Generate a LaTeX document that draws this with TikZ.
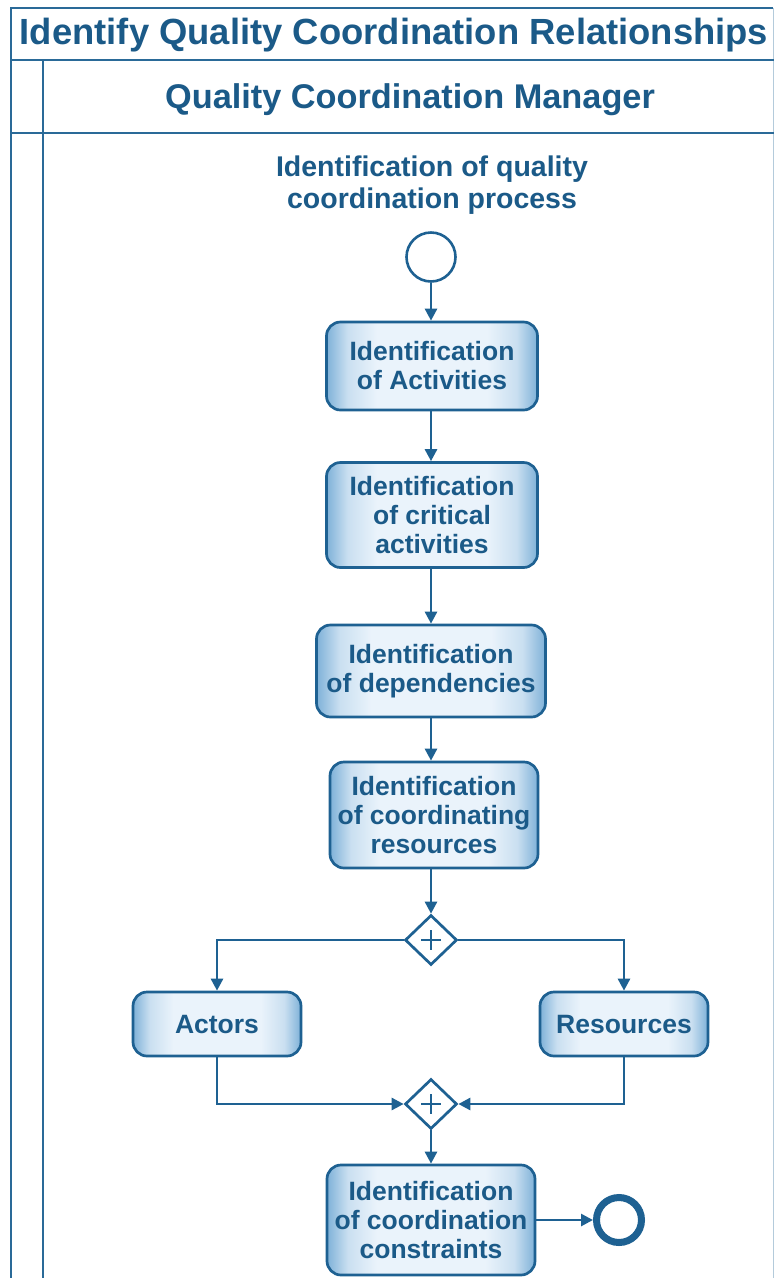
\documentclass[tikz,border=0pt]{standalone}
\usepackage{fontspec}
\setmainfont{Liberation Sans}
\usetikzlibrary{arrows.meta,shapes.geometric,calc}

\definecolor{ink}{HTML}{1B5A88}
\definecolor{edge}{HTML}{1E6192}
\definecolor{frameline}{HTML}{2A6A98}
\definecolor{shadeedge}{HTML}{7EB1D8}
\definecolor{shademid}{HTML}{EAF3FB}

% light body, darker bands along the left and right sides of each task
\pgfdeclarehorizontalshading{taskshade}{100bp}{%
  color(0bp)=(shadeedge); color(25bp)=(shadeedge);
  color(30bp)=(shademid!70!shadeedge); color(37bp)=(shademid);
  color(63bp)=(shademid); color(70bp)=(shademid!70!shadeedge);
  color(75bp)=(shadeedge); color(100bp)=(shadeedge)}

\newcommand{\titlefont}{\fontsize{36.4}{40}\selectfont\bfseries}
\newcommand{\headfont}{\fontsize{34.3}{38}\selectfont\bfseries}
\newcommand{\labelfont}{\fontsize{28.5}{32}\selectfont\bfseries}
\newcommand{\taskfont}{\fontsize{26.5}{29}\selectfont\bfseries}

\tikzset{
  frame/.style={draw=frameline, line width=2.6pt},
  task/.style={draw=edge, line width=2.7pt, rounded corners=14pt,
    shading=taskshade, text=ink, font=\taskfont, align=center, inner sep=0pt},
  gate/.style={diamond, draw=edge, line width=2.7pt, fill=white,
    minimum width=52pt, minimum height=50pt, inner sep=0pt},
  plus/.style={draw=edge, line width=2.6pt},
  flow/.style={draw=edge, line width=2.7pt, -{Triangle[length=12pt,width=12pt]}},
  startev/.style={circle, draw=edge, line width=2.6pt, fill=white,
    minimum size=49pt, inner sep=0pt},
  endev/.style={circle, draw=edge, line width=7pt, fill=white,
    minimum size=45pt, inner sep=0pt},
}

\begin{document}
\begin{tikzpicture}[x=1pt,y=-1pt]
\useasboundingbox[fill=white] (0,0) rectangle (774,1278);

% pool and lane frame
\draw[frame] (11,1290) -- (11,8) -- (773,8);
\draw[draw=frameline!35, line width=1pt] (773.5,8) -- (773.5,1290);
\draw[frame] (11,60) -- (774,60);
\draw[frame] (11,133) -- (774,133);
\draw[frame] (43,60) -- (43,1290);

\node[text=ink, font=\titlefont] (pool) at (394,35) {Identify Quality Coordination Relationships};
\node[text=ink, font=\headfont] (lane) at (410,100) {Quality Coordination Manager};

% process
\node[text=ink, font=\labelfont, align=center] (proc) at (432,185)
  {Identification of quality\\coordination process};
\node[startev] (start) at (431,257) {};

\node[task, minimum width=211pt, minimum height=88pt] (act) at (432,366)
  {Identification\\of Activities};
\node[task, minimum width=211pt, minimum height=105pt] (crit) at (432,515)
  {Identification\\of critical\\activities};
\node[task, minimum width=229pt, minimum height=92pt] (dep) at (431,671)
  {Identification\\of dependencies};
\node[task, minimum width=208pt, minimum height=106pt] (res) at (434,815)
  {Identification\\of coordinating\\resources};

\node[gate] (split) at (431,940) {};
\draw[plus] ($(split.center)+(-10,0)$) -- ($(split.center)+(10,0)$);
\draw[plus] ($(split.center)+(0,-10)$) -- ($(split.center)+(0,10)$);

\node[task, minimum width=168pt, minimum height=64pt] (actors) at (217,1024) {Actors};
\node[task, minimum width=168pt, minimum height=64pt] (resources) at (624,1024) {Resources};

\node[gate] (join) at (431,1104) {};
\draw[plus] ($(join.center)+(-10,0)$) -- ($(join.center)+(10,0)$);
\draw[plus] ($(join.center)+(0,-10)$) -- ($(join.center)+(0,10)$);

\node[task, minimum width=208pt, minimum height=110pt] (cons) at (431,1220)
  {Identification\\of coordination\\constraints};
\node[endev] (end) at (619,1220) {};

% sequence flows
\draw[flow] (start) -- (start |- act.north);
\draw[flow] (act.south -| start) -- (crit.north -| start);
\draw[flow] (crit.south -| start) -- (dep.north -| start);
\draw[flow] (dep.south -| start) -- (res.north -| start);
\draw[flow] (res.south -| start) -- (split.north);
\draw[flow] (split.west) -| (actors.north);
\draw[flow] (split.east) -| (resources.north);
\draw[flow] (actors.south) |- (join.west);
\draw[flow] (resources.south) |- (join.east);
\draw[flow] (join.south) -- (cons.north -| join);
\draw[flow] (cons.east) -- (end.west);
\end{tikzpicture}
\end{document}
